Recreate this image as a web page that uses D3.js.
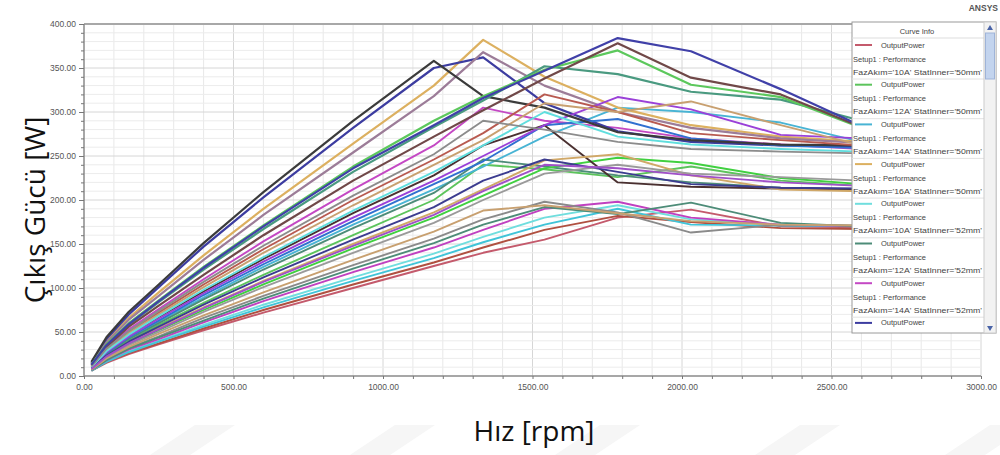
<!DOCTYPE html>
<html>
<head>
<meta charset="utf-8">
<script src="https://cdn.jsdelivr.net/npm/d3@7"></script>
<style>
  body { margin: 0; background: #fff; }
  svg { display: block; font-family: "Liberation Sans", Arial, sans-serif; }
</style>
</head>
<body>
<svg id="chart" width="1000" height="455"></svg>
<script>
// speed points of the sweep (rpm)
const rpm = [25, 75, 150, 250, 400, 600, 900, 1170, 1335, 1540, 1785, 2030, 2330, 2600, 2950];

// output power [W], one array per FazAkim / StatInner case
const p10_50 = [6, 15, 25, 36, 52, 72, 100, 125, 140, 155, 180, 189, 170, 169, 168];
const p12_50 = [9, 24, 40, 58, 83, 115, 160, 200, 240, 235, 226, 238, 222, 216, 214];
const p14_50 = [9, 26, 43, 62, 89, 124, 172, 212, 238, 272, 305, 300, 288, 266, 264];
const p16_50 = [14, 40, 66, 95, 137, 190, 264, 330, 382, 340, 305, 285, 272, 266, 264];
const p10_52 = [6, 17, 28, 40, 58, 81, 112, 139, 158, 180, 194, 178, 172, 170, 168];
const p12_52 = [9, 25, 42, 60, 87, 121, 168, 208, 246, 238, 228, 220, 214, 212, 211];
const p14_52 = [12, 32, 53, 76, 110, 153, 212, 262, 305, 290, 282, 270, 263, 258, 256];
const p16_52 = [15, 42, 70, 101, 147, 203, 282, 350, 362, 310, 278, 266, 262, 261, 260];
const p10_54 = [6, 16, 26, 37, 54, 75, 104, 129, 146, 166, 182, 175, 168, 167, 166];
const p12_54 = [8, 22, 36, 52, 75, 104, 145, 180, 205, 236, 248, 242, 225, 218, 216];
const p14_54 = [10, 26, 44, 63, 92, 127, 176, 218, 244, 285, 292, 270, 262, 259, 257];
const p16_54 = [14, 38, 64, 91, 132, 183, 254, 318, 368, 330, 300, 282, 270, 265, 263];
const p10_56 = [6, 16, 27, 39, 56, 78, 108, 134, 152, 172, 190, 172, 171, 170, 169];
const p12_56 = [10, 28, 46, 67, 96, 133, 185, 228, 262, 285, 220, 215, 213, 212, 211];
const p14_56 = [10, 27, 45, 65, 94, 130, 180, 222, 250, 285, 317, 303, 274, 270, 268];
const p16_56 = [16, 44, 73, 104, 151, 209, 290, 358, 318, 305, 277, 268, 263, 262, 260];
const p10_58 = [7, 18, 30, 42, 61, 85, 118, 146, 166, 190, 198, 180, 172, 170, 169];
const p12_58 = [8, 22, 38, 54, 78, 108, 150, 186, 212, 245, 252, 228, 212, 210, 208];
const p14_58 = [11, 30, 50, 72, 104, 144, 200, 246, 276, 320, 300, 276, 268, 262, 260];
const p16_58 = [13, 35, 58, 84, 121, 167, 232, 283, 313, 352, 343, 323, 314, 290, 282];
const p10_60 = [7, 19, 32, 45, 66, 91, 126, 156, 178, 198, 186, 163, 172, 171, 170];
const p12_60 = [9, 23, 39, 56, 81, 112, 155, 192, 222, 246, 232, 218, 214, 213, 212];
const p14_60 = [11, 29, 49, 70, 101, 140, 194, 240, 268, 310, 300, 312, 285, 262, 260];
const p16_60 = [13, 36, 60, 86, 124, 171, 238, 290, 318, 348, 370, 331, 317, 282, 278];
const p10_62 = [7, 18, 31, 44, 63, 88, 122, 151, 172, 192, 184, 197, 174, 170, 169];
const p12_62 = [8, 21, 35, 50, 73, 101, 140, 174, 200, 230, 240, 230, 226, 222, 220];
const p14_62 = [10, 28, 47, 68, 98, 135, 188, 232, 262, 300, 272, 263, 258, 255, 254];
const p16_62 = [12, 33, 56, 80, 115, 160, 222, 272, 302, 338, 378, 339, 320, 283, 280];
const p10_64 = [7, 20, 33, 48, 69, 95, 132, 164, 188, 194, 185, 176, 172, 171, 170];
const p12_64 = [8, 22, 37, 53, 77, 107, 148, 183, 210, 240, 236, 228, 220, 216, 214];
const p14_64 = [11, 31, 51, 74, 107, 148, 205, 252, 290, 280, 266, 258, 255, 253, 252];
const p16_64 = [13, 35, 59, 85, 123, 170, 236, 285, 316, 347, 384, 369, 326, 284, 281];

const currents = ["10A", "12A", "14A", "16A"];
const statInner = ["50mm", "52mm", "54mm", "56mm", "58mm", "60mm", "62mm", "64mm"];

// curves in legend order (StatInner outer, FazAkim inner)
const curves = [
  p10_50, p12_50, p14_50, p16_50, p10_52, p12_52, p14_52, p16_52,
  p10_54, p12_54, p14_54, p16_54, p10_56, p12_56, p14_56, p16_56,
  p10_58, p12_58, p14_58, p16_58, p10_60, p12_60, p14_60, p16_60,
  p10_62, p12_62, p14_62, p16_62, p10_64, p12_64, p14_64, p16_64
];
const curveColors = [
  "#c45a6c", "#5cc45c", "#48b4d4", "#dcb060", "#70dede", "#4d8c78", "#c448c4", "#3c3ca0",
  "#b05040", "#40d040", "#3070d0", "#9c7c98", "#40c4d8", "#4a3030", "#9a40d8", "#3b3b3b",
  "#c040c0", "#d0a868", "#b85a50", "#4a9a80", "#8a8a8a", "#3c3c90", "#c8a070", "#5cc85c",
  "#4d8c78", "#9a9a9a", "#60dede", "#704848", "#c8a070", "#a050c8", "#8c8c8c", "#4040a8"
];

const xTicks = [0, 500, 1000, 1500, 2000, 2500, 3000];
const yTicks = [0, 50, 100, 150, 200, 250, 300, 350, 400];

const svg = d3.select("#chart");
const x = d3.scaleLinear().domain([0, 3000]).range([84, 981]);
const y = d3.scaleLinear().domain([0, 400]).range([376, 24]);

/* faint watermark stripes at the bottom */
const wm = [[150, 185], [350, 385], [555, 590], [755, 790], [945, 980]];
svg.append("g").selectAll("path").data(wm).enter().append("path")
  .attr("d", d => `M${d[0]},455 L${d[0] + 45},425 L${d[1] + 50},425 L${d[1] + 5},455 Z`)
  .attr("fill", "#f6f6f6");

/* grid */
const grid = svg.append("g");
grid.selectAll(".gx").data(d3.range(100, 3001, 100)).enter().append("line")
  .attr("x1", d => x(d)).attr("x2", d => x(d)).attr("y1", y(0)).attr("y2", y(400))
  .attr("stroke", d => d % 500 === 0 ? "#d6d6d6" : "#e8e8e8").attr("stroke-width", 1);
grid.selectAll(".gy").data(d3.range(10, 401, 10)).enter().append("line")
  .attr("x1", x(0)).attr("x2", x(3000)).attr("y1", d => y(d)).attr("y2", d => y(d))
  .attr("stroke", d => d % 50 === 0 ? "#d6d6d6" : "#ececec").attr("stroke-width", 1);

/* curves */
const plot = svg.append("g");
svg.append("clipPath").attr("id", "clip").append("rect")
  .attr("x", x(0)).attr("y", y(400)).attr("width", x(3000) - x(0)).attr("height", y(0) - y(400));
const line = d3.line().x((d, i) => x(rpm[i])).y(d => y(d));
plot.attr("clip-path", "url(#clip)")
  .selectAll("path").data(curves).enter().append("path")
  .attr("d", line)
  .attr("fill", "none")
  .attr("stroke", (d, i) => curveColors[i])
  .attr("stroke-width", (d, i) => (i % 4 === 3 ? 2.2 : 1.9))
  .attr("stroke-linejoin", "round");

/* axes frame */
svg.append("line").attr("x1", x(0)).attr("x2", x(3000)).attr("y1", y(400)).attr("y2", y(400))
  .attr("stroke", "#a8a8a8").attr("stroke-width", 2);
svg.append("line").attr("x1", x(0)).attr("x2", x(0)).attr("y1", y(0)).attr("y2", y(400))
  .attr("stroke", "#8a8a8a").attr("stroke-width", 1.5);
svg.append("line").attr("x1", x(0)).attr("x2", x(3000)).attr("y1", y(0)).attr("y2", y(0))
  .attr("stroke", "#8a8a8a").attr("stroke-width", 1.5);

const xAxis = d3.axisBottom(x).tickValues(d3.range(0, 3001, 100))
  .tickSize(3).tickFormat(d => xTicks.includes(d) ? d.toFixed(2) : "");
const gx = svg.append("g").attr("transform", `translate(0,${y(0)})`).call(xAxis);
gx.select(".domain").remove();
gx.selectAll("line").attr("stroke", "#777");
gx.selectAll("text").attr("font-size", 8.5).attr("fill", "#555").attr("dy", "0.9em");

const yAxis = d3.axisLeft(y).tickValues(d3.range(0, 401, 10))
  .tickSize(3).tickFormat(d => yTicks.includes(d) ? d.toFixed(2) : "");
const gy = svg.append("g").attr("transform", `translate(${x(0)},0)`).call(yAxis);
gy.select(".domain").remove();
gy.selectAll("line").attr("stroke", "#777");
gy.selectAll(".tick").filter(d => yTicks.includes(d)).select("line").attr("x2", -5);
gy.selectAll("text").attr("font-size", 8.5).attr("fill", "#555").attr("x", -8);

/* axis titles */
svg.append("text").attr("x", 534).attr("y", 441).attr("text-anchor", "middle")
  .attr("font-family", "'Open Sans', sans-serif").attr("font-size", 28).attr("fill", "#111")
  .text("Hız [rpm]");
svg.append("text").attr("transform", "translate(45,210) rotate(-90)").attr("text-anchor", "middle")
  .attr("font-family", "'Open Sans', sans-serif").attr("font-size", 28).attr("fill", "#111")
  .text("Çıkış Gücü [W]");

svg.append("text").attr("x", 998).attr("y", 11).attr("text-anchor", "end")
  .attr("font-size", 8.5).attr("font-weight", "bold").attr("fill", "#555").text("ANSYS");

/* legend (Curve Info) */
const lg = svg.append("g");
lg.append("rect").attr("x", 852).attr("y", 22).attr("width", 144).attr("height", 311)
  .attr("fill", "#fff").attr("stroke", "#9a9a9a").attr("stroke-width", 1);
svg.append("clipPath").attr("id", "lclip").append("rect")
  .attr("x", 852).attr("y", 22).attr("width", 132).attr("height", 311);
lg.append("text").attr("x", 917).attr("y", 34).attr("text-anchor", "middle")
  .attr("font-size", 7.5).attr("fill", "#444").text("Curve Info");
lg.append("line").attr("x1", 852).attr("x2", 984).attr("y1", 38).attr("y2", 38)
  .attr("stroke", "#ddd");

const entries = lg.append("g").attr("clip-path", "url(#lclip)")
  .selectAll("g").data(curves.slice(0, 9)).enter().append("g")
  .attr("transform", (d, i) => `translate(0,${45 + i * 39.7})`);
entries.append("line").attr("x1", 855).attr("x2", 872).attr("y1", 0).attr("y2", 0)
  .attr("stroke", (d, i) => curveColors[i]).attr("stroke-width", 2);
entries.append("text").attr("x", 881).attr("y", 2.5).attr("font-size", 7.5).attr("fill", "#444")
  .text("OutputPower");
entries.append("text").attr("x", 853).attr("y", 16.5).attr("font-size", 7.5).attr("fill", "#444")
  .text("Setup1 : Performance");
entries.append("text").attr("x", 853).attr("y", 29.5).attr("font-size", 7.5).attr("fill", "#444")
  .attr("textLength", 129).attr("lengthAdjust", "spacingAndGlyphs")
  .text((d, i) => `FazAkım='${currents[i % 4]}' StatInner='${statInner[Math.floor(i / 4)]}'`);
entries.append("line").attr("x1", 852).attr("x2", 984).attr("y1", 34).attr("y2", 34)
  .attr("stroke", "#e2e2e2");

/* scrollbar */
lg.append("rect").attr("x", 984).attr("y", 22).attr("width", 12).attr("height", 311)
  .attr("fill", "#f2f2f2").attr("stroke", "#ccc");
lg.append("rect").attr("x", 985.5).attr("y", 33).attr("width", 9).attr("height", 46)
  .attr("fill", "#c3d4ee").attr("stroke", "#9fb4d8");
lg.append("path").attr("d", "M987,30 L990,25 L993,30 Z").attr("fill", "#4a64a8");
lg.append("path").attr("d", "M987,326 L990,331 L993,326 Z").attr("fill", "#4a64a8");
</script>
</body>
</html>
